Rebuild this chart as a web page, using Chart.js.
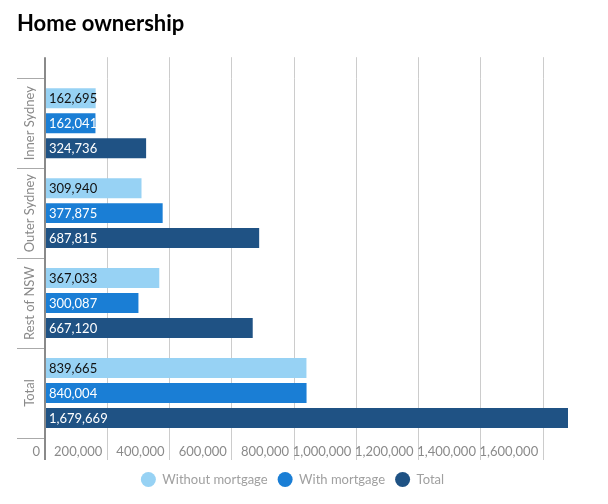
<!DOCTYPE html>
<html>
<head>
<meta charset="utf-8">
<script src="https://cdn.jsdelivr.net/npm/chart.js@4"></script>
<style>
html,body{margin:0;padding:0;background:#fff;}
#wrap{width:608px;height:504px;position:relative;}
</style>
</head>
<body>
<div id="wrap"><canvas id="c" width="608" height="504"></canvas></div>
<script>
const categories = ['Inner Sydney', 'Outer Sydney', 'Rest of NSW', 'Total'];
const withoutMortgage = [162695, 309940, 367033, 839665];
const withMortgage = [162041, 377875, 300087, 840004];
const totalOwned = [324736, 687815, 667120, 1679669];
const seriesNames = ['Without mortgage', 'With mortgage', 'Total'];
const seriesColors = ['#97d2f4', '#1a7ed5', '#1f5284'];
const labelColors = ['#111111', '#ffffff', '#ffffff'];
const tickStep = 200000;

const FONT = 'Lato';
const axisMax = Math.max(...withoutMortgage, ...withMortgage, ...totalOwned);

// measure widest category label so the rotated labels sit centred at x≈30
const mctx = document.createElement('canvas').getContext('2d');
mctx.font = '13px ' + FONT;
const widestCat = Math.max(...categories.map(c => mctx.measureText(c).width));
const yTick = 28;
const yPad = 45 - yTick - 30 - widestCat / 2;

const fmt = v => Number(v).toLocaleString('en-US');
const stepTicks = s => {
  const t = [];
  for (let v = 0; v <= s.max; v += tickStep) t.push({ value: v });
  s.ticks = t;
};

const barLabels = {
  id: 'barLabels',
  afterDatasetsDraw(chart) {
    const ctx = chart.ctx;
    ctx.save();
    ctx.font = '13px ' + FONT;
    ctx.textAlign = 'left';
    ctx.textBaseline = 'middle';
    chart.data.datasets.forEach((ds, di) => {
      const meta = chart.getDatasetMeta(di);
      meta.data.forEach((bar, i) => {
        ctx.fillStyle = labelColors[di];
        ctx.fillText(fmt(ds.data[i]), bar.base + 3, bar.y + 1);
      });
    });
    ctx.restore();
  }
};

const gridColor = c => (c.tick && c.tick.value === 0) ? '#8a8a8a' : '#cccccc';
const gridWidth = c => (c.tick && c.tick.value === 0) ? 2 : 1;

new Chart(document.getElementById('c'), {
  type: 'bar',
  data: {
    labels: categories,
    datasets: [
      { label: seriesNames[0], data: withoutMortgage, backgroundColor: seriesColors[0] },
      { label: seriesNames[1], data: withMortgage, backgroundColor: seriesColors[1] },
      { label: seriesNames[2], data: totalOwned, backgroundColor: seriesColors[2] }
    ]
  },
  options: {
    indexAxis: 'y',
    responsive: false,
    animation: false,
    devicePixelRatio: 1,
    categoryPercentage: 75 / 90,
    barPercentage: 0.8,
    layout: { padding: { left: 17, right: 40, top: 0, bottom: 8 } },
    scales: {
      x: {
        type: 'linear',
        position: 'bottom',
        min: 0,
        max: axisMax,
        afterBuildTicks: stepTicks,
        afterFit: s => { s.height = 25; },
        ticks: {
          autoSkip: false,
          maxRotation: 0,
          minRotation: 0,
          align: 'end',
          labelOffset: -5,
          padding: -16,
          color: '#8a8a8a',
          font: { family: FONT, size: 13 },
          callback: v => fmt(v)
        },
        grid: { color: gridColor, lineWidth: gridWidth, tickLength: 22 },
        border: { display: false }
      },
      x2: {
        type: 'linear',
        position: 'top',
        min: 0,
        max: axisMax,
        afterBuildTicks: stepTicks,
        ticks: { display: false },
        grid: { drawOnChartArea: false, color: gridColor, lineWidth: gridWidth, tickLength: 21 },
        border: { display: false }
      },
      y: {
        type: 'category',
        afterFit: s => { s.width = 28; },
        ticks: {
          minRotation: 90,
          maxRotation: 90,
          crossAlign: 'center',
          padding: yPad,
          color: '#8a8a8a',
          font: { family: FONT, size: 13 }
        },
        grid: { drawOnChartArea: false, tickLength: yTick, color: '#aaaaaa', lineWidth: 1 },
        border: { display: true, color: '#8a8a8a', width: 2 }
      }
    },
    plugins: {
      title: {
        display: true,
        text: 'Home ownership',
        align: 'start',
        color: '#000000',
        font: { family: FONT, size: 22, weight: 'bold' },
        padding: { top: 11, bottom: 19.8 }
      },
      legend: {
        position: 'bottom',
        labels: {
          usePointStyle: true,
          pointStyle: 'circle',
          pointStyleWidth: 15,
          boxHeight: 10.6,
          color: '#a0a0a0',
          padding: 10,
          font: { family: FONT, size: 13 }
        }
      },
      tooltip: { enabled: false }
    }
  },
  plugins: [barLabels]
});
</script>
</body>
</html>
